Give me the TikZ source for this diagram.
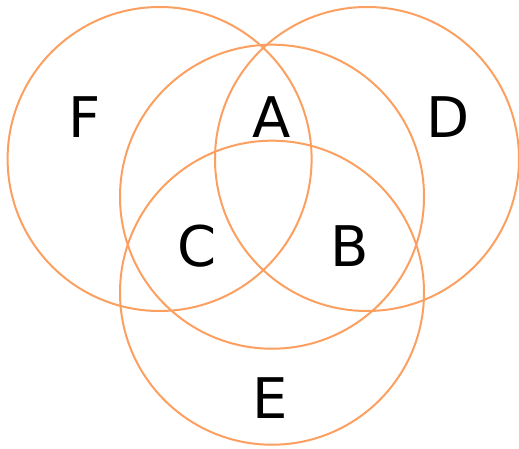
\documentclass[tikz,border=0pt]{standalone}
\usepackage{fontspec}
\setmainfont{DejaVu Sans}
\usetikzlibrary{positioning}
\definecolor{Peach}{HTML}{FBA060}

\begin{document}
\begin{tikzpicture}[
    x=1pt,y=-1pt,
    ring/.style={draw=Peach,line width=2pt},
    lbl/.style={anchor=base,inner sep=0pt,font=\fontsize{56}{60}\selectfont}
  ]
    \useasboundingbox (0,0) rectangle (519,449);
    \draw[ring] (159.6,159) circle[radius=152];
    \draw[ring] (367,159) circle[radius=152];
    \draw[ring] (272,196.7) circle[radius=152];
    \draw[ring] (272,292.7) circle[radius=152];
    \node[lbl] (f) at (84.7,138) {F};
    \node[lbl] (a) at (271.7,138) {A};
    \node[lbl] (d) at (448,138) {D};
    \node[lbl] (c) at (197,266) {C};
    \node[lbl] (b) at (350,266) {B};
    \node[lbl] (e) at (270,418) {E};
  \end{tikzpicture}
\end{document}
